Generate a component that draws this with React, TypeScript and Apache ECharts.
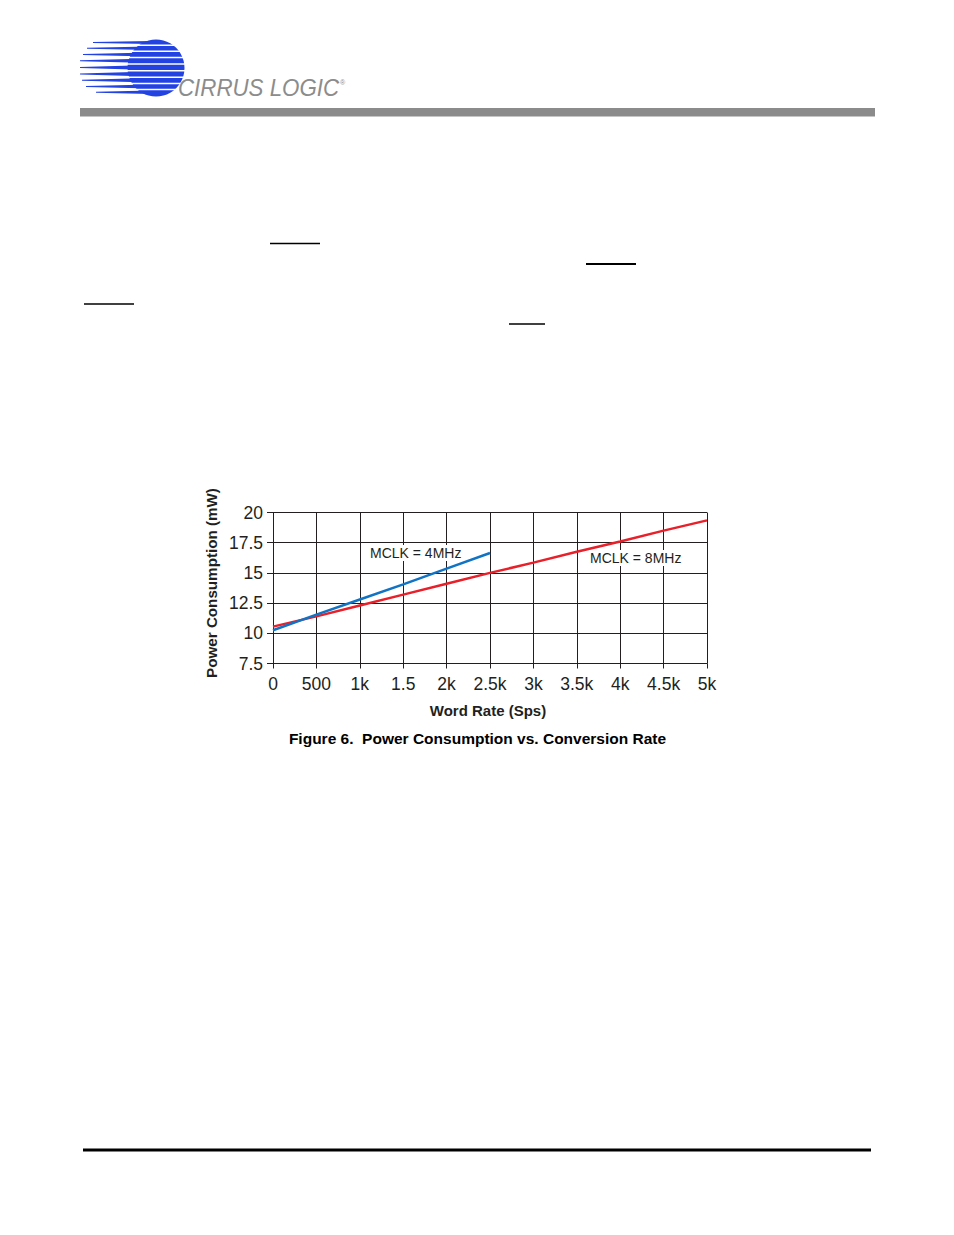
import React, { useEffect, useRef } from "react";
import * as echarts from "echarts";

const wordRates = [0, 500, 1000, 1500, 2000, 2500, 3000, 3500, 4000, 4500, 5000];
const mclk4Power = [10.25, 11.55, 12.8, 14.05, 15.35, 16.65];
const mclk8Power = [10.55, 11.4, 12.3, 13.2, 14.1, 15.0, 15.85, 16.75, 17.6, 18.5, 19.35];
const xTickLabels = ["0", "500", "1k", "1.5", "2k", "2.5k", "3k", "3.5k", "4k", "4.5k", "5k"];
const yTickLabels = ["7.5", "10", "12.5", "15", "17.5", "20"];
const seriesNames = ["MCLK = 4MHz", "MCLK = 8MHz"];

const FONT = '"Liberation Sans", Arial, Helvetica, sans-serif';
const INK = "#231f20";
const BLUE = "#1173c4";
const RED = "#e8202a";
const LOGO_BLUE = "#2342e2";

function logoElements(): any[] {
  const els: any[] = [];
  const rows = [
    { y: 41, h: 3, x: 93 },
    { y: 46.5, h: 3.5, x: 87 },
    { y: 52.5, h: 4, x: 83 },
    { y: 58.5, h: 4.5, x: 80 },
    { y: 65, h: 5, x: 80 },
    { y: 71.5, h: 5, x: 80 },
    { y: 78, h: 4.5, x: 82 },
    { y: 84.5, h: 4, x: 86 },
    { y: 90.5, h: 3.5, x: 96 },
  ];
  els.push({
    type: "circle",
    shape: { cx: 156, cy: 68, r: 28.5 },
    style: { fill: LOGO_BLUE },
  });
  rows.forEach((r) => {
    const yc = r.y + r.h / 2;
    els.push({
      type: "polygon",
      shape: {
        points: [
          [r.x, yc - 0.6],
          [150, r.y],
          [150, r.y + r.h],
          [r.x, yc + 0.6],
        ],
      },
      style: { fill: LOGO_BLUE },
    });
  });
  for (let i = 0; i < rows.length - 1; i++) {
    const gy = (rows[i].y + rows[i].h + rows[i + 1].y) / 2;
    els.push({
      type: "rect",
      shape: { x: 120, y: gy - 0.7, width: 68, height: 1.4 },
      style: { fill: "#ffffff" },
    });
  }
  els.push({
    type: "text",
    x: 178,
    y: 100,
    scaleX: 0.93,
    style: {
      text: "CIRRUS LOGIC",
      font: `italic 24px ${FONT}`,
      fill: "#8c8c8c",
      verticalAlign: "bottom",
    },
  });
  els.push({
    type: "text",
    x: 340,
    y: 79,
    style: { text: "®", font: `7px ${FONT}`, fill: "#8c8c8c" },
  });
  return els;
}

export default function App() {
  const ref = useRef<HTMLDivElement>(null);

  useEffect(() => {
    if (!ref.current) return;
    const chart = echarts.init(ref.current, null, { renderer: "svg" });

    const s4 = mclk4Power.map((v, i) => [wordRates[i], v]);
    const s8 = mclk8Power.map((v, i) => [wordRates[i], v]);

    const overlines = [
      { x1: 270, x2: 320, y: 243.5, w: 1.3 },
      { x1: 586, x2: 636, y: 264, w: 2 },
      { x1: 84, x2: 134, y: 304, w: 1.3 },
      { x1: 509, x2: 545, y: 324, w: 1.3 },
    ];

    chart.setOption({
      animation: false,
      backgroundColor: "#ffffff",
      grid: { left: 273, top: 512.5, width: 434, height: 151, containLabel: false },
      xAxis: {
        type: "value",
        min: 0,
        max: 5000,
        interval: 500,
        axisLine: { show: true, lineStyle: { color: INK, width: 1 } },
        axisTick: { show: true, inside: false, length: 5, lineStyle: { color: INK, width: 1 } },
        splitLine: { show: true, lineStyle: { color: INK, width: 1 } },
        axisLabel: {
          margin: 11,
          fontFamily: FONT,
          fontSize: 17.5,
          color: INK,
          formatter: (v: number) => xTickLabels[Math.round(v / 500)] ?? "",
        },
      },
      yAxis: {
        type: "value",
        min: 7.5,
        max: 20,
        interval: 2.5,
        axisLine: { show: true, lineStyle: { color: INK, width: 1 } },
        axisTick: { show: true, inside: false, length: 6, lineStyle: { color: INK, width: 1 } },
        splitLine: { show: true, lineStyle: { color: INK, width: 1 } },
        axisLabel: {
          margin: 10,
          fontFamily: FONT,
          fontSize: 17.5,
          color: INK,
          formatter: (v: number) => yTickLabels[Math.round((v - 7.5) / 2.5)] ?? "",
        },
      },
      series: [
        {
          name: seriesNames[1],
          type: "line",
          data: s8,
          showSymbol: false,
          lineStyle: { color: RED, width: 2.5 },
          itemStyle: { color: RED },
        },
        {
          name: seriesNames[0],
          type: "line",
          data: s4,
          showSymbol: false,
          lineStyle: { color: BLUE, width: 2.5 },
          itemStyle: { color: BLUE },
        },
      ],
      graphic: [
        ...logoElements(),
        {
          type: "rect",
          shape: { x: 80, y: 108, width: 795, height: 8.5 },
          style: { fill: "#8b8b8b" },
        },
        ...overlines.map((l) => ({
          type: "line",
          shape: { x1: l.x1, y1: l.y, x2: l.x2, y2: l.y },
          style: { stroke: "#000", lineWidth: l.w },
        })),
        {
          type: "text",
          x: 369,
          y: 553,
          z: 10,
          style: {
            text: seriesNames[0],
            font: `14px ${FONT}`,
            fill: INK,
            verticalAlign: "middle",
            backgroundColor: "#ffffff",
            padding: [1, 1],
          },
        },
        {
          type: "text",
          x: 589,
          y: 558,
          z: 10,
          style: {
            text: seriesNames[1],
            font: `14px ${FONT}`,
            fill: INK,
            verticalAlign: "middle",
            backgroundColor: "#ffffff",
            padding: [1, 1],
          },
        },
        {
          type: "text",
          x: 211,
          y: 583,
          rotation: Math.PI / 2,
          style: {
            text: "Power Consumption (mW)",
            font: `bold 15.2px ${FONT}`,
            fill: INK,
            align: "center",
            verticalAlign: "middle",
          },
        },
        {
          type: "text",
          x: 488,
          y: 710,
          style: {
            text: "Word Rate (Sps)",
            font: `bold 15px ${FONT}`,
            fill: INK,
            align: "center",
            verticalAlign: "middle",
          },
        },
        {
          type: "text",
          x: 477.5,
          y: 738,
          style: {
            text: "Figure 6.  Power Consumption vs. Conversion Rate",
            font: `bold 15.5px ${FONT}`,
            fill: "#000",
            align: "center",
            verticalAlign: "middle",
          },
        },
        {
          type: "rect",
          shape: { x: 83, y: 1148.5, width: 788, height: 3 },
          style: { fill: "#000" },
        },
      ],
    });

    return () => {
      chart.dispose();
    };
  }, []);

  return (
    <div
      ref={ref}
      style={{ position: "absolute", left: 0, top: 0, width: 954, height: 1235, background: "#fff" }}
    />
  );
}
